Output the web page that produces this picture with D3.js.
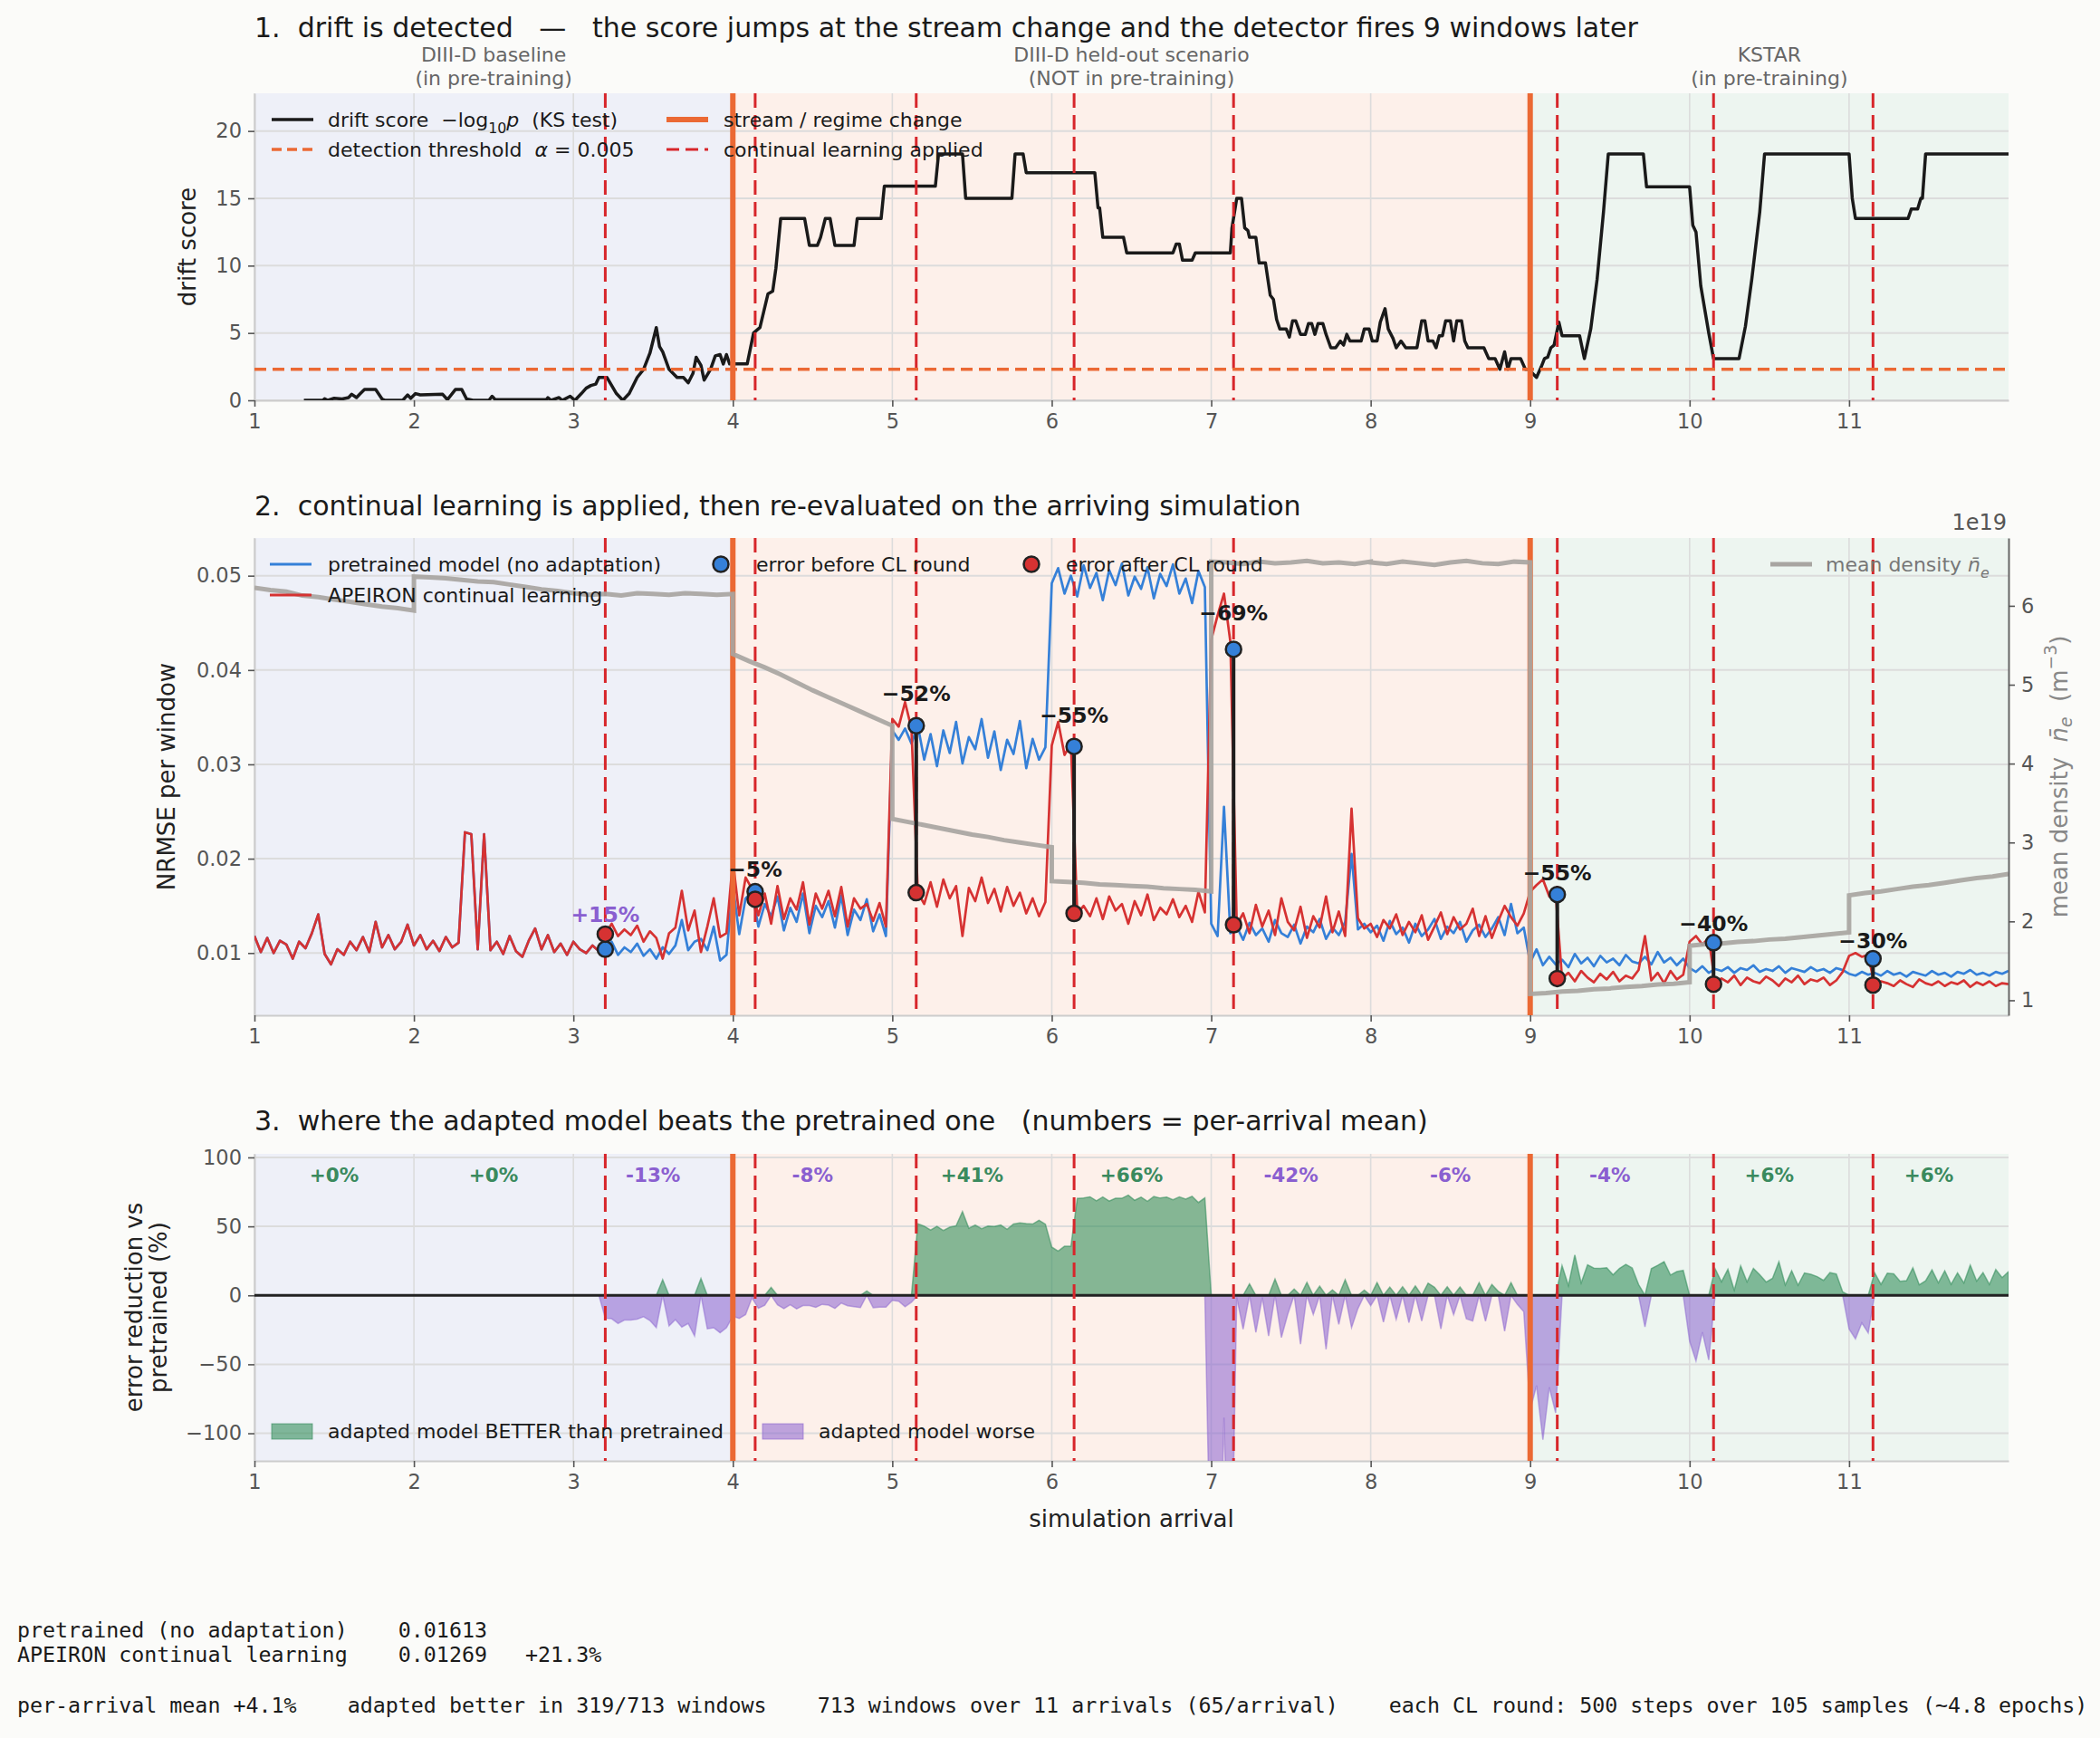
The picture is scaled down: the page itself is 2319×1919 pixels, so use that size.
<!DOCTYPE html>
<html><head><meta charset="utf-8">
<script src="https://cdn.jsdelivr.net/npm/d3@7"></script>
<style>
body{margin:0;background:#fbfbf9}
svg text{white-space:pre}
</style></head>
<body><svg id="c" width="2319" height="1919" font-family="DejaVu Sans"></svg>
<script>
// ---------------- DATA ----------------
const arrivalTicks=[1,2,3,4,5,6,7,8,9,10,11];
const regionStart=[1,4,9], regionEnd=[4,9,12];
const regionLine1=["DIII-D baseline","DIII-D held-out scenario","KSTAR"];
const regionLine2=["(in pre-training)","(NOT in pre-training)","(in pre-training)"];
const streamChanges=[4,9];
const clRounds=[3.2,4.14,5.15,6.14,7.14,9.17,10.15,11.15];
const errBefore=[0.0104,0.0165,0.0341,0.0319,0.0422,0.0162,0.0111,0.0094];
const errAfter=[0.0120,0.0157,0.0164,0.0142,0.0130,0.0073,0.0067,0.0066];
const alpha=0.005;

// drift score (-log10 p), step curve
const driftX=[1.31,1.43,1.44,1.46,1.50,1.55,1.59,1.61,1.64,1.66,1.69,1.76,1.80,1.82,1.93,1.96,1.98,2.01,2.04,2.18,2.21,2.26,2.30,2.33,2.37,2.47,2.49,2.51,2.83,2.84,2.86,2.91,2.93,2.98,3.01,3.05,3.08,3.11,3.14,3.16,3.21,3.23,3.27,3.31,3.35,3.40,3.44,3.48,3.52,3.54,3.56,3.60,3.65,3.69,3.72,3.75,3.77,3.80,3.82,3.86,3.89,3.92,3.94,3.96,3.98,4.09,4.13,4.17,4.22,4.25,4.27,4.30,4.45,4.48,4.53,4.55,4.58,4.61,4.64,4.76,4.78,4.93,4.95,5.27,5.29,5.44,5.46,5.75,5.77,5.82,5.84,6.27,6.29,6.30,6.32,6.45,6.47,6.76,6.78,6.80,6.82,6.88,6.90,7.12,7.13,7.16,7.19,7.21,7.23,7.24,7.28,7.30,7.34,7.37,7.39,7.41,7.43,7.47,7.49,7.51,7.53,7.56,7.59,7.61,7.63,7.65,7.67,7.70,7.72,7.75,7.78,7.81,7.83,7.85,7.87,7.94,7.96,7.99,8.01,8.04,8.06,8.09,8.11,8.14,8.16,8.19,8.22,8.29,8.32,8.34,8.36,8.39,8.41,8.43,8.45,8.47,8.50,8.52,8.54,8.57,8.59,8.61,8.71,8.74,8.78,8.81,8.84,8.86,8.88,8.94,8.97,8.99,9.04,9.07,9.09,9.11,9.13,9.15,9.18,9.20,9.31,9.34,9.38,9.42,9.46,9.49,9.71,9.73,10.0,10.02,10.04,10.07,10.12,10.15,10.31,10.35,10.39,10.44,10.47,11.0,11.02,11.04,11.37,11.39,11.43,11.45,11.46,11.48,12.0];
const driftScore=[0,0,0.12,0,0.15,0.1,0.2,0.45,0.2,0.45,0.8,0.8,0.1,0,0,0.4,0.15,0.5,0.4,0.45,0.05,0.8,0.8,0.1,0,0,0.3,0.05,0.05,0.2,0,0.2,0,0.3,0,0.5,0.9,1.1,1.2,1.7,1.7,1.3,0.5,0,0.5,1.7,2.3,3.5,5.4,4.0,3.6,2.3,1.7,1.7,1.3,2.0,3.2,2.6,1.5,2.3,3.3,3.4,2.7,3.4,2.7,2.7,5.0,5.4,7.9,8.1,9.8,13.5,13.5,11.5,11.5,12.1,13.5,13.5,11.5,11.5,13.5,13.5,15.9,15.9,18.3,18.3,15.0,15.0,18.3,18.3,16.9,16.9,14.3,14.3,12.1,12.1,10.95,10.95,11.6,11.6,10.4,10.4,10.95,10.95,12.8,15.0,15.0,12.8,12.6,12.1,12.1,10.2,10.2,7.8,7.5,6.0,5.3,5.3,4.7,5.9,5.9,4.9,4.9,5.7,5.7,4.9,5.7,5.7,4.9,3.9,3.9,4.4,4.1,4.9,4.4,4.4,5.3,5.3,4.4,4.4,5.8,6.8,5.3,4.6,3.9,4.4,3.9,3.9,5.9,5.9,4.4,4.4,3.9,4.8,4.8,5.9,5.9,4.4,5.9,5.9,4.4,3.9,3.9,3.1,3.1,2.3,3.6,2.3,3.1,3.1,2.3,2.3,1.7,2.5,3.1,3.2,3.9,4.1,5.8,4.8,4.8,3.1,5.3,9.0,14.0,18.3,18.3,15.85,15.85,13.0,12.5,8.5,5.0,3.1,3.1,5.5,9.0,14.0,18.3,18.3,15.0,13.5,13.5,14.2,14.2,15.0,15.0,18.3,18.3];

// NRMSE per window, sampled every 1/25 arrival from x=1 to x=12
const samplesPerArrival=25;
const pretrained=[
.0118,.0101,.0116,.0100,.0113,.0109,.0094,.0112,.0105,.0121,.0141,.0099,.0088,.0104,.0098,.0112,.0103,.0117,.0101,.0133,.0106,.0119,.0104,.0112,.0130,
.0108,.0119,.0104,.0113,.0102,.0117,.0106,.0111,.0228,.0226,.0104,.0226,.0103,.0112,.0099,.0118,.0102,.0096,.0113,.0126,.0104,.0119,.0101,.0110,.0098,
.0112,.0104,.0100,.0108,.0102,.0103,.0112,.0098,.0106,.0101,.0110,.0097,.0104,.0094,.0106,.0099,.0108,.0135,.0103,.0112,.0115,.0103,.0128,.0092,.0098,
.0172,.0120,.0158,.0165,.0128,.0152,.0139,.0160,.0124,.0148,.0133,.0163,.0121,.0150,.0138,.0155,.0127,.0161,.0119,.0146,.0135,.0157,.0123,.0141,.0118,
.0336,.0326,.0338,.0322,.0341,.0305,.0332,.0298,.0336,.0312,.0345,.0301,.0329,.0316,.0348,.0307,.0335,.0294,.0326,.0311,.0346,.0296,.0327,.0305,.0318,
.0492,.0508,.0481,.0500,.0478,.0511,.0487,.0503,.0474,.0506,.0490,.0513,.0479,.0499,.0486,.0509,.0476,.0502,.0489,.0512,.0481,.0497,.0471,.0505,.0488,
.0131,.0118,.0255,.0121,.0128,.0114,.0132,.0119,.0126,.0112,.0135,.0121,.0117,.0130,.0110,.0128,.0122,.0136,.0115,.0127,.0119,.0133,.0205,.0125,.0131,
.0122,.0129,.0113,.0134,.0120,.0127,.0111,.0131,.0118,.0125,.0136,.0115,.0128,.0121,.0133,.0112,.0124,.0130,.0117,.0126,.0138,.0119,.0152,.0121,.0127,
.0090,.0104,.0087,.0096,.0088,.0093,.0085,.0099,.0089,.0095,.0086,.0097,.0090,.0094,.0087,.0098,.0091,.0089,.0096,.0088,.0101,.0090,.0095,.0087,.0094,
.0084,.0080,.0086,.0079,.0083,.0081,.0085,.0079,.0084,.0082,.0087,.0080,.0083,.0081,.0086,.0079,.0084,.0082,.0080,.0085,.0081,.0083,.0079,.0084,.0082,
.0078,.0076,.0080,.0077,.0079,.0076,.0081,.0077,.0079,.0075,.0080,.0078,.0076,.0081,.0077,.0079,.0075,.0080,.0078,.0082,.0077,.0079,.0076,.0080,.0078,.0081];
// APEIRON: identical to pretrained before the first CL round (first 55 samples)
const apeironAfterFirstCL=[
.0120,.0131,.0118,.0125,.0119,.0129,.0112,.0123,.0116,.0094,.0121,.0127,.0166,.0124,.0145,.0101,.0128,.0158,.0117,.0121,
.0198,.0140,.0180,.0168,.0140,.0163,.0131,.0171,.0136,.0158,.0146,.0175,.0130,.0163,.0147,.0166,.0139,.0170,.0128,.0158,.0147,.0152,.0134,.0153,.0128,
.0348,.0340,.0366,.0338,.0164,.0152,.0175,.0149,.0178,.0158,.0171,.0118,.0169,.0155,.0180,.0153,.0168,.0144,.0170,.0150,.0164,.0142,.0158,.0139,.0154,
.0320,.0345,.0310,.0322,.0142,.0150,.0139,.0158,.0136,.0160,.0145,.0152,.0131,.0155,.0140,.0162,.0135,.0148,.0141,.0157,.0138,.0150,.0133,.0165,.0143,
.0432,.0458,.0481,.0430,.0130,.0142,.0121,.0151,.0128,.0145,.0119,.0158,.0133,.0124,.0149,.0116,.0139,.0127,.0160,.0122,.0144,.0118,.0253,.0137,.0126,
.0131,.0117,.0135,.0126,.0141,.0119,.0133,.0122,.0140,.0114,.0128,.0143,.0120,.0138,.0125,.0131,.0147,.0118,.0139,.0116,.0134,.0150,.0138,.0129,.0142,
.0165,.0172,.0178,.0160,.0163,.0073,.0079,.0070,.0081,.0074,.0069,.0078,.0072,.0080,.0070,.0076,.0073,.0082,.0118,.0071,.0079,.0068,.0081,.0072,.0077,
.0112,.0118,.0109,.0116,.0067,.0073,.0069,.0076,.0066,.0074,.0070,.0068,.0075,.0071,.0065,.0073,.0069,.0076,.0067,.0072,.0070,.0074,.0066,.0071,.0080,
.0097,.0100,.0096,.0098,.0066,.0070,.0068,.0065,.0071,.0067,.0064,.0072,.0068,.0066,.0070,.0065,.0069,.0067,.0071,.0064,.0069,.0066,.0070,.0065,.0068,.0067];
const apeiron=pretrained.slice(0,55).concat(apeironAfterFirstCL);

// mean density (1e19 m^-3), 11 samples across each arrival
const densityByArrival=[
[6.23,6.20,6.18,6.13,6.11,6.08,6.05,6.02,5.99,5.97,5.94],
[6.37,6.36,6.35,6.33,6.31,6.30,6.27,6.24,6.21,6.19,6.16],
[6.16,6.14,6.15,6.13,6.16,6.15,6.14,6.16,6.15,6.14,6.15],
[5.39,5.30,5.22,5.13,5.03,4.93,4.84,4.75,4.66,4.57,4.48],
[3.30,3.26,3.22,3.18,3.14,3.10,3.07,3.03,3.00,2.97,2.94],
[2.51,2.50,2.49,2.47,2.46,2.45,2.44,2.42,2.41,2.40,2.38],
[6.56,6.55,6.53,6.56,6.54,6.55,6.57,6.54,6.55,6.53,6.56],
[6.55,6.53,6.56,6.54,6.52,6.55,6.57,6.54,6.53,6.56,6.55],
[1.08,1.09,1.11,1.12,1.14,1.15,1.17,1.18,1.20,1.21,1.23],
[1.69,1.71,1.72,1.74,1.75,1.77,1.78,1.80,1.82,1.84,1.86],
[2.33,2.36,2.38,2.41,2.44,2.46,2.49,2.52,2.55,2.57,2.60]];

const arrivalMeanReduction=["+0%","+0%","-13%","-8%","+41%","+66%","-42%","-6%","-4%","+6%","+6%"];
const footerLines=[
"pretrained (no adaptation)    0.01613",
"APEIRON continual learning    0.01269   +21.3%",
"",
"per-arrival mean +4.1%    adapted better in 319/713 windows    713 windows over 11 arrivals (65/arrival)    each CL round: 500 steps over 105 samples (~4.8 epochs)"];

// ---------------- DRAW ----------------
const W=2319,H=1919,X0=281,X1=2218;
const P1={top:103,bot:442},P2={top:594,bot:1121},P3={top:1274,bot:1613};
const FS={title:30,region:22,legend:22,tick:22.5,label:26,cl:23.5,mean:21.5,mono:23.3};
const C={bg:"#fbfbf9",reg:["#eef0f8","#fdf0ea","#edf5f0"],grid:"#dcdcdc",spine:"#cccccc",tick:"#555",
orange:"#eb6934",red:"#d7262b",black:"#1a1a1a",blue:"#3580d8",apeiron:"#d63232",grey:"#a8a5a1",
green:"#2e8b57",purple:"#8a63cf",greenText:"#3a8a5e",purpleText:"#8a5fd0"};
const svg=d3.select("#c");
svg.append("rect").attr("width",W).attr("height",H).attr("fill",C.bg);
const x=d3.scaleLinear().domain([1,12]).range([X0,X1]);
const xOf=i=>1+i/samplesPerArrival;

function rich(sel,parts){
  let shift=0;
  parts.forEach(p=>{
    const t=sel.append("tspan").text(p.t);
    if(p.it) t.attr("font-style","italic");
    let target=0;
    if(p.sub){t.attr("font-size","0.72em");target=7;}
    if(p.sup){t.attr("font-size","0.72em");target=-10;}
    if(target!==shift){t.attr("dy",target-shift);shift=target;}
  });
}

function panel(P,y,yTicks,yFmt,clip){
  const g=svg.append("g");
  regionStart.forEach((s,i)=>g.append("rect").attr("x",x(s)).attr("y",P.top).attr("width",x(regionEnd[i])-x(s)).attr("height",P.bot-P.top).attr("fill",C.reg[i]));
  arrivalTicks.forEach(t=>g.append("line").attr("x1",x(t)).attr("x2",x(t)).attr("y1",P.top).attr("y2",P.bot).attr("stroke",C.grid).attr("stroke-width",1.6));
  yTicks.forEach(t=>g.append("line").attr("x1",X0).attr("x2",X1).attr("y1",y(t)).attr("y2",y(t)).attr("stroke",C.grid).attr("stroke-width",2));
  const ax=svg.append("g").attr("transform",`translate(${X0},0)`).call(d3.axisLeft(y).tickValues(yTicks).tickFormat(yFmt).tickSize(7).tickPadding(7).tickSizeOuter(0));
  const bx=svg.append("g").attr("transform",`translate(0,${P.bot})`).call(d3.axisBottom(x).tickValues(arrivalTicks).tickFormat(d3.format("d")).tickSize(7).tickPadding(8).tickSizeOuter(0));
  [ax,bx].forEach(a=>{a.select(".domain").attr("stroke",C.spine).attr("stroke-width",2);
    a.selectAll(".tick line").attr("stroke",C.tick).attr("stroke-width",1.6);
    a.selectAll("text").attr("fill",C.tick).attr("font-size",FS.tick).attr("font-family","DejaVu Sans");});
  const data=svg.append("g");
  if(clip){
    svg.append("clipPath").attr("id",clip).append("rect").attr("x",X0).attr("y",P.top).attr("width",X1-X0).attr("height",P.bot-P.top);
    data.attr("clip-path",`url(#${clip})`);
  }
  return data;
}
function verticals(g,P){
  clRounds.forEach(c=>g.append("line").attr("x1",x(c)).attr("x2",x(c)).attr("y1",P.top).attr("y2",P.bot).attr("stroke",C.red).attr("stroke-width",3).attr("stroke-dasharray","16,8"));
  streamChanges.forEach(c=>g.append("line").attr("x1",x(c)).attr("x2",x(c)).attr("y1",P.top).attr("y2",P.bot).attr("stroke",C.orange).attr("stroke-width",6));
}
function title(txt,yb){svg.append("text").attr("x",X0).attr("y",yb).attr("font-size",FS.title).attr("fill",C.black).text(txt);}
function ylabel(lines,cx,cy,color){
  lines.forEach((l,i)=>{
    const t=svg.append("text").attr("transform",`translate(${cx[i]},${cy}) rotate(-90)`).attr("text-anchor","middle").attr("dominant-baseline","central").attr("font-size",FS.label).attr("fill",color||"#222");
    if(typeof l==="string") t.text(l); else rich(t,l);
  });
}

// ===== Panel 1 =====
title("1.  drift is detected   \u2014   the score jumps at the stream change and the detector fires 9 windows later",41);
regionLine1.forEach((l,i)=>{const cx=x((regionStart[i]+regionEnd[i])/2);
  svg.append("text").attr("x",cx).attr("y",68).attr("text-anchor","middle").attr("font-size",FS.region).attr("fill","#666").text(l);
  svg.append("text").attr("x",cx).attr("y",94).attr("text-anchor","middle").attr("font-size",FS.region).attr("fill","#666").text(regionLine2[i]);});
const y1=d3.scaleLinear().domain([0,22.8]).range([P1.bot,P1.top]);
const g1=panel(P1,y1,[0,5,10,15,20],d3.format("d"),"clip1");
const thr=-Math.log10(alpha);
g1.append("path").datum(driftX.map((v,i)=>[v,driftScore[i]])).attr("fill","none").attr("stroke",C.black).attr("stroke-width",3.5).attr("stroke-linejoin","round")
  .attr("d",d3.line().x(d=>x(d[0])).y(d=>y1(d[1])));
verticals(g1,P1);
g1.append("line").attr("x1",X0).attr("x2",X1).attr("y1",y1(thr)).attr("y2",y1(thr)).attr("stroke",C.orange).attr("stroke-width",3.5).attr("stroke-dasharray","13,7");
ylabel(["drift score"],[207],(P1.top+P1.bot)/2);
// legend 1
function legLine(xs,yc,color,w,dash){const l=svg.append("line").attr("x1",xs).attr("x2",xs+46).attr("y1",yc).attr("y2",yc).attr("stroke",color).attr("stroke-width",w);if(dash)l.attr("stroke-dasharray",dash);}
function legText(xs,yc,parts,color){const t=svg.append("text").attr("x",xs).attr("y",yc+8).attr("font-size",FS.legend).attr("fill",color||C.black);if(typeof parts==="string")t.text(parts);else rich(t,parts);}
legLine(300,132,C.black,3.5);legText(362,132,[{t:"drift score  \u2212log"},{t:"10",sub:1},{t:"p",it:1},{t:"  (KS test)"}]);
legLine(300,165,C.orange,3.5,"11,6");legText(362,165,[{t:"detection threshold  "},{t:"\u03b1",it:1},{t:" = 0.005"}]);
legLine(736,132,C.orange,6);legText(799,132,"stream / regime change");
legLine(736,165,C.red,3,"14,7");legText(799,165,"continual learning applied");

// ===== Panel 2 =====
title("2.  continual learning is applied, then re-evaluated on the arriving simulation",569);
const y2=d3.scaleLinear().domain([0.0034,0.054]).range([P2.bot,P2.top]);
const yD=d3.scaleLinear().domain([0.81,6.86]).range([P2.bot,P2.top]);
const g2=panel(P2,y2,[0.01,0.02,0.03,0.04,0.05],d3.format(".2f"),"clip2");
const ln=d3.line().x((d,i)=>x(xOf(i))).y(d=>y2(d));
g2.append("path").datum(pretrained).attr("fill","none").attr("stroke",C.blue).attr("stroke-width",2.7).attr("stroke-linejoin","round").attr("d",ln);
g2.append("path").datum(apeiron).attr("fill","none").attr("stroke",C.apeiron).attr("stroke-width",2.7).attr("stroke-linejoin","round").attr("d",ln);
verticals(g2,P2);
const densPts=[];densityByArrival.forEach((arr,k)=>arr.forEach((v,j)=>densPts.push([1+k+j/(arr.length-1),v])));
g2.append("path").datum(densPts).attr("fill","none").attr("stroke",C.grey).attr("stroke-opacity",0.92).attr("stroke-width",5).attr("d",d3.line().x(d=>x(d[0])).y(d=>yD(d[1])));
clRounds.forEach((c,i)=>{
  g2.append("line").attr("x1",x(c)).attr("x2",x(c)).attr("y1",y2(errBefore[i])).attr("y2",y2(errAfter[i])).attr("stroke","#1e1e1e").attr("stroke-width",4);
});
clRounds.forEach((c,i)=>{
  g2.append("circle").attr("cx",x(c)).attr("cy",y2(errBefore[i])).attr("r",8.5).attr("fill",C.blue).attr("stroke","#222").attr("stroke-width",2.5);
  g2.append("circle").attr("cx",x(c)).attr("cy",y2(errAfter[i])).attr("r",8.5).attr("fill",C.apeiron).attr("stroke","#222").attr("stroke-width",2.5);
  const pct=Math.round((errAfter[i]-errBefore[i])/errBefore[i]*100);
  const lab=(pct>0?"+":"\u2212")+Math.abs(pct)+"%";
  const top=Math.max(errBefore[i],errAfter[i])*1.06;
  svg.append("text").attr("x",x(c)).attr("y",y2(top)-6).attr("text-anchor","middle").attr("font-size",FS.cl).attr("font-weight","bold")
    .attr("fill",pct>0?C.purpleText:C.black).text(lab);
});
// right axis
const rx=svg.append("g").attr("transform",`translate(${X1},0)`).call(d3.axisRight(yD).tickValues([1,2,3,4,5,6]).tickFormat(d3.format("d")).tickSize(7).tickPadding(7).tickSizeOuter(0));
rx.select(".domain").attr("stroke","#666").attr("stroke-width",2);
rx.selectAll(".tick line").attr("stroke",C.tick).attr("stroke-width",1.6);
rx.selectAll("text").attr("fill",C.tick).attr("font-size",FS.tick).attr("font-family","DejaVu Sans");
svg.append("text").attr("x",X1-2).attr("y",585).attr("text-anchor","end").attr("font-size",24).attr("fill",C.tick).text("1e19");
ylabel(["NRMSE per window"],[184],(P2.top+P2.bot)/2);
ylabel([[{t:"mean density  "},{t:"n\u0304",it:1},{t:"e",it:1,sub:1},{t:"  (m"},{t:"\u22123",sup:1},{t:")"}]],[2274],(P2.top+P2.bot)/2,"#888");
// legend 2
legLine(298,623,C.blue,3);legText(362,623,"pretrained model (no adaptation)");
legLine(298,657,C.apeiron,3);legText(362,657,"APEIRON continual learning");
svg.append("circle").attr("cx",796).attr("cy",623).attr("r",8.5).attr("fill",C.blue).attr("stroke","#222").attr("stroke-width",2.5);
legText(835,623,"error before CL round");
svg.append("circle").attr("cx",1139).attr("cy",623).attr("r",8.5).attr("fill",C.apeiron).attr("stroke","#222").attr("stroke-width",2.5);
legText(1177,623,"error after CL round");
legLine(1955,623,C.grey,5);legText(2016,623,[{t:"mean density "},{t:"n\u0304",it:1},{t:"e",it:1,sub:1}],"#777");

// ===== Panel 3 =====
title("3.  where the adapted model beats the pretrained one   (numbers = per-arrival mean)",1248);
const y3=d3.scaleLinear().domain([-120,102.6]).range([P3.bot,P3.top]);
const g3=panel(P3,y3,[-100,-50,0,50,100],d3.format("d"),"clip3");
const reduction=pretrained.map((p,i)=>(p-apeiron[i])/p*100);
const aPos=d3.area().x((d,i)=>x(xOf(i))).y0(y3(0)).y1(d=>y3(Math.max(d,0)));
const aNeg=d3.area().x((d,i)=>x(xOf(i))).y0(y3(0)).y1(d=>y3(Math.min(d,0)));
g3.append("path").datum(reduction).attr("d",aPos).attr("fill",C.green).attr("fill-opacity",0.58).attr("stroke",C.green).attr("stroke-opacity",0.55).attr("stroke-width",1.5);
g3.append("path").datum(reduction).attr("d",aNeg).attr("fill",C.purple).attr("fill-opacity",0.55).attr("stroke",C.purple).attr("stroke-opacity",0.5).attr("stroke-width",1.5);
g3.append("line").attr("x1",X0).attr("x2",X1).attr("y1",y3(0)).attr("y2",y3(0)).attr("stroke","#222").attr("stroke-width",3);
verticals(g3,P3);
arrivalMeanReduction.forEach((s,i)=>svg.append("text").attr("x",x(arrivalTicks[i]+0.5)).attr("y",y3(87)).attr("dominant-baseline","central").attr("text-anchor","middle")
  .attr("font-size",FS.mean).attr("font-weight","bold").attr("fill",s[0]==="+"?C.greenText:C.purpleText).text(s));
ylabel(["error reduction vs","pretrained (%)"],[148,175],(P3.top+P3.bot)/2);
svg.append("text").attr("x",(X0+X1)/2).attr("y",1686).attr("text-anchor","middle").attr("font-size",FS.label).attr("fill","#222").text("simulation arrival");
// legend 3
svg.append("rect").attr("x",300).attr("y",1572).attr("width",45).attr("height",17).attr("fill",C.green).attr("fill-opacity",0.58).attr("stroke",C.green).attr("stroke-opacity",0.6);
legText(362,1580,"adapted model BETTER than pretrained");
svg.append("rect").attr("x",842).attr("y",1572).attr("width",45).attr("height",17).attr("fill",C.purple).attr("fill-opacity",0.55).attr("stroke",C.purple).attr("stroke-opacity",0.6);
legText(904,1580,"adapted model worse");

// footer
const fy=[1808,1835,1863,1891];
footerLines.forEach((l,i)=>svg.append("text").attr("x",19).attr("y",fy[i]).attr("font-family","DejaVu Sans Mono").attr("font-size",FS.mono).attr("fill",C.black).text(l));
</script></body></html>
